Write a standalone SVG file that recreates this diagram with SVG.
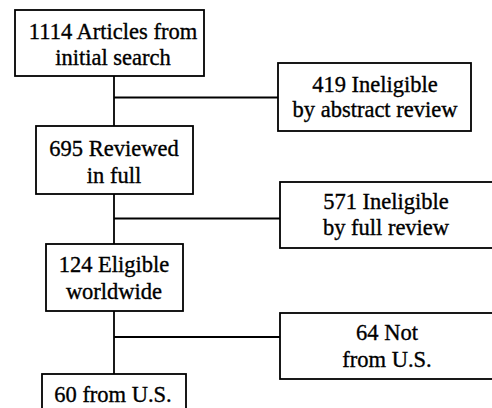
<svg xmlns="http://www.w3.org/2000/svg" width="492" height="408" viewBox="0 0 492 408">
<style>
.box{fill:#fff;stroke:#000;stroke-width:1.8}
.ln{stroke:#000;stroke-width:1.8;fill:none}
text{font-family:"Liberation Serif","Times New Roman",serif;font-size:22.5px;fill:#000;stroke:#000;stroke-width:0.35;text-anchor:middle}
</style>
<rect width="492" height="408" fill="#fff"/>
<g id="connectors">
<line class="ln" x1="114" y1="76" x2="114" y2="126"/>
<line class="ln" x1="114" y1="97.5" x2="278" y2="97.5"/>
<line class="ln" x1="114" y1="194" x2="114" y2="244"/>
<line class="ln" x1="114" y1="218.5" x2="280" y2="218.5"/>
<line class="ln" x1="114" y1="311" x2="114" y2="374"/>
<line class="ln" x1="114" y1="337" x2="280" y2="337"/>
</g>
<g id="n1">
<rect class="box" x="15" y="10" width="189" height="66"/>
<text x="113" y="39">1114 Articles from</text>
<text x="113" y="65">initial search</text>
</g>
<g id="n2">
<rect class="box" x="278" y="63" width="193" height="68"/>
<text x="375" y="92">419 Ineligible</text>
<text x="375" y="117">by abstract review</text>
</g>
<g id="n3">
<rect class="box" x="36" y="126" width="157" height="68"/>
<text x="114" y="156">695 Reviewed</text>
<text x="114" y="183">in full</text>
</g>
<g id="n4">
<rect class="box" x="280" y="182" width="214" height="66"/>
<text x="386" y="209">571 Ineligible</text>
<text x="386" y="235">by full review</text>
</g>
<g id="n5">
<rect class="box" x="46" y="244" width="137" height="67"/>
<text x="114" y="272">124 Eligible</text>
<text x="114" y="299">worldwide</text>
</g>
<g id="n6">
<rect class="box" x="280" y="313" width="214" height="66"/>
<text x="387" y="340">64 Not</text>
<text x="387" y="367">from U.S.</text>
</g>
<g id="n7">
<rect class="box" x="42" y="374" width="144" height="40"/>
<text x="113" y="402">60 from U.S.</text>
</g>
</svg>
